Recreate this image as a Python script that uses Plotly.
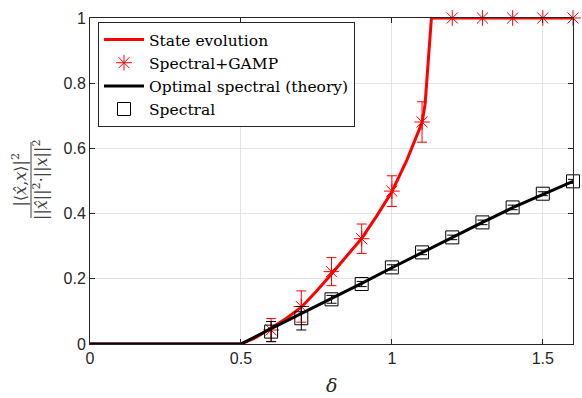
import plotly.graph_objects as go

# State evolution curve
se_x = [0, 0.5, 0.55, 0.6, 0.65, 0.7, 0.75, 0.8, 0.85, 0.9, 0.95, 1.0, 1.05, 1.1, 1.11, 1.131, 1.6]
se_y = [0, 0, 0.02, 0.048, 0.078, 0.113, 0.162, 0.215, 0.268, 0.324, 0.393, 0.467, 0.565, 0.679, 0.735, 1.0, 1.0]

# Spectral + GAMP (simulation)
pts_x = [0.6, 0.7, 0.8, 0.9, 1.0, 1.1, 1.2, 1.3, 1.4, 1.5, 1.6]
gamp_y = [0.043, 0.115, 0.222, 0.323, 0.469, 0.681, 1.0, 1.0, 1.0, 1.0, 1.0]
gamp_err = [0.035, 0.048, 0.043, 0.045, 0.047, 0.062, 0, 0, 0, 0, 0]

# Optimal spectral (theory)
th_x = [0, 0.5, 0.6, 0.7, 0.8, 0.9, 1.0, 1.1, 1.2, 1.3, 1.4, 1.5, 1.6]
th_y = [0, 0, 0.047, 0.093, 0.139, 0.186, 0.234, 0.281, 0.327, 0.373, 0.418, 0.459, 0.499]

# Spectral (simulation)
spec_y = [0.038, 0.079, 0.137, 0.184, 0.235, 0.281, 0.327, 0.373, 0.419, 0.461, 0.499]
spec_err = [0.031, 0.036, 0.012, 0.008, 0.008, 0.007, 0.007, 0.007, 0.007, 0.006, 0.006]

x_ticks = [0, 0.5, 1, 1.5]
x_tick_labels = ["0", "0.5", "1", "1.5"]
y_ticks = [0, 0.2, 0.4, 0.6, 0.8, 1]
y_tick_labels = ["0", "0.2", "0.4", "0.6", "0.8", "1"]

RED = "#ff0000"
BLACK = "#000000"
SERIF = "DejaVu Serif"

fig = go.Figure()
fig.add_trace(go.Scatter(x=se_x, y=se_y, mode="lines", name="State evolution",
                         line=dict(color=RED, width=3), cliponaxis=False))
fig.add_trace(go.Scatter(x=pts_x, y=gamp_y, mode="markers", name="Spectral+GAMP",
                         marker=dict(symbol="asterisk-open", size=13, color=RED,
                                     line=dict(color=RED, width=1)),
                         error_y=dict(type="data", array=gamp_err, visible=True,
                                      color=RED, thickness=1, width=5),
                         cliponaxis=False))
fig.add_trace(go.Scatter(x=th_x, y=th_y, mode="lines", name="Optimal spectral (theory)",
                         line=dict(color=BLACK, width=3), cliponaxis=False))
fig.add_trace(go.Scatter(x=pts_x, y=spec_y, mode="markers", name="Spectral",
                         marker=dict(symbol="square-open", size=13, color=BLACK,
                                     line=dict(color=BLACK, width=1)),
                         error_y=dict(type="data", array=spec_err, visible=True,
                                      color=BLACK, thickness=1, width=5),
                         cliponaxis=False))

axis_common = dict(showline=True, mirror="ticks", linecolor="#262626", linewidth=1,
                   ticks="inside", ticklen=5, tickcolor="#262626",
                   showgrid=True, gridcolor="#e3e3e3", gridwidth=1, zeroline=False,
                   tickfont=dict(family="Liberation Sans", size=16, color="#262626"))

fig.update_xaxes(range=[0, 1.6], tickvals=x_ticks, ticktext=x_tick_labels, **axis_common)
fig.update_yaxes(range=[0, 1], tickvals=y_ticks, ticktext=y_tick_labels, **axis_common)

fig.update_layout(
    width=582, height=398,
    margin=dict(l=90, r=9, t=18, b=54),
    paper_bgcolor="white", plot_bgcolor="white",
    showlegend=True,
    legend=dict(x=(98 - 90) / 483, y=(344 - 22) / 326, xanchor="left", yanchor="top",
                bgcolor="white", bordercolor="#262626", borderwidth=1,
                font=dict(family=SERIF, size=15.5, color="#000000"),
                tracegroupgap=0, itemwidth=40),
)

# x-axis label
fig.add_annotation(text="<i>δ</i>", xref="paper", yref="paper", x=0.5, y=(344 - 385) / 326,
                   xanchor="center", yanchor="middle", showarrow=False,
                   font=dict(family=SERIF, size=19, color="#262626"))

# y-axis label as a rotated fraction
fig.add_annotation(text="|⟨<i>x̂</i>,<i>x</i>⟩|<sup>2</sup><br>||<i>x̂</i>||<sup>2</sup>·||<i>x</i>||<sup>2</sup>",
                   xref="paper", yref="paper", x=(30 - 90) / 483, y=(344 - 180) / 326,
                   xanchor="center", yanchor="middle", textangle=-90, showarrow=False,
                   font=dict(family=SERIF, size=16, color="#404040"))
fig.add_shape(type="line", xref="paper", yref="paper",
              x0=(31 - 90) / 483, x1=(31 - 90) / 483,
              y0=(344 - 142) / 326, y1=(344 - 218) / 326,
              line=dict(color="#404040", width=1))

fig.write_html("out.html", config={"displayModeBar": False},
               post_script="document.body.style.margin='0';document.body.style.padding='0';")
